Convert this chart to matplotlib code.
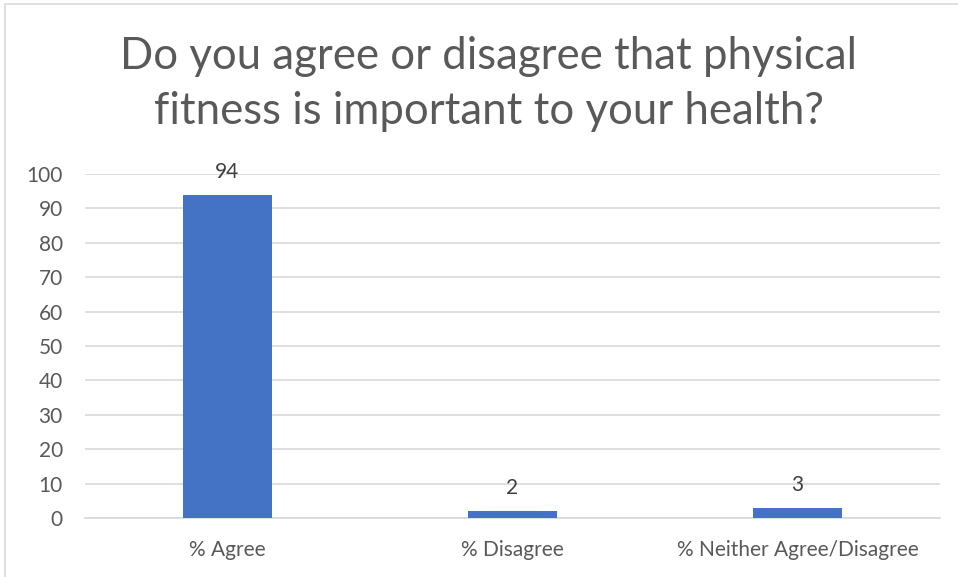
import matplotlib.pyplot as plt
from matplotlib.patches import Rectangle

categories = ["% Agree", "% Disagree", "% Neither Agree/Disagree"]
values = [94, 2, 3]
yticks = [0, 10, 20, 30, 40, 50, 60, 70, 80, 90, 100]
title = "Do you agree or disagree that physical\nfitness is important to your health?"

plt.rcParams['font.family'] = ['Lato', 'DejaVu Sans']
text_color = "#595959"
bar_color = "#4472C4"

fig = plt.figure(figsize=(9.58, 5.77), dpi=100)
ax = fig.add_axes([85 / 958, 59 / 577, 855 / 958, 344 / 577])

x = range(len(categories))
bars = ax.bar(x, values, width=0.31, color=bar_color, zorder=3)
for b, v in zip(bars, values):
    ax.text(b.get_x() + b.get_width() / 2, v + 3.8, str(v), ha="center", va="bottom",
            fontsize=15, color="#404040")

ax.set_xlim(-0.5, len(categories) - 0.5)
ax.set_ylim(0, 100)
ax.set_yticks(yticks)
ax.set_xticks(list(x))
ax.set_xticklabels(categories)
ax.tick_params(axis="both", length=0, labelsize=15, colors=text_color)
ax.tick_params(axis="y", pad=16)
ax.tick_params(axis="x", pad=16)
ax.grid(axis="y", color="#d9d9d9", linewidth=1.2, zorder=0)
for s in ["top", "right", "left"]:
    ax.spines[s].set_visible(False)
ax.spines["bottom"].set_color("#d9d9d9")
ax.spines["bottom"].set_linewidth(1.2)

fig.text(489 / 958, 1 - 84 / 577, title, ha="center", va="center", fontsize=31.5,
         color=text_color, linespacing=1.45)

# outer chart border (partly cut off in the original)
fig.patches.append(Rectangle((5 / 958, -0.1), 1.1, 1 - 4 / 577 + 0.1, transform=fig.transFigure,
                             fill=False, edgecolor="#d9d9d9", linewidth=1.2))

fig.savefig("out.png", dpi=100)
